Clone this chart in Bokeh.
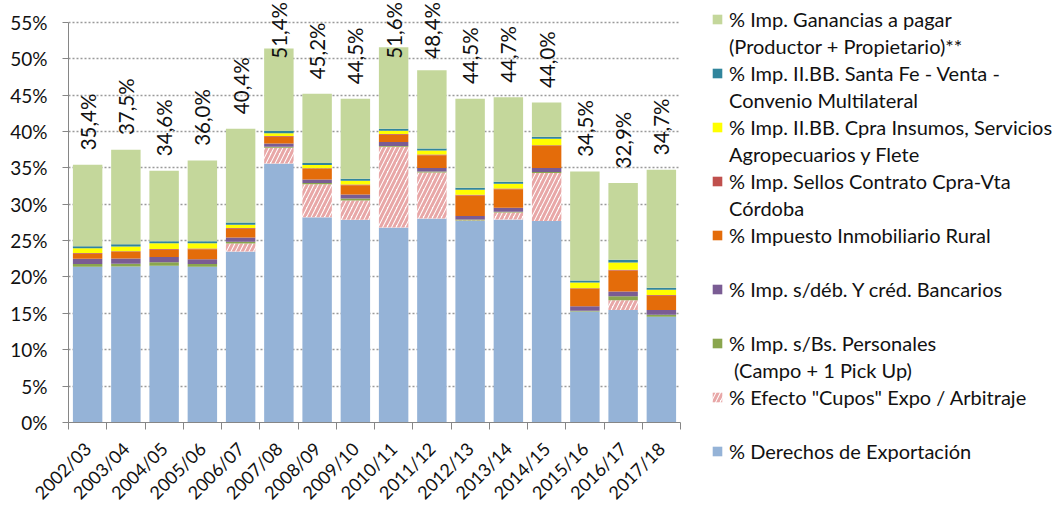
import numpy as np
from bokeh.plotting import figure
from bokeh.models import (ColumnDataSource, Range1d, FixedTicker, PrintfTickFormatter,
                          Legend, LegendItem)
from bokeh.embed import file_html
from bokeh.resources import INLINE
from bokeh.core.properties import value

# ---------------- data (percent of gross income) ----------------
campanas = ["2002/03", "2003/04", "2004/05", "2005/06", "2006/07", "2007/08", "2008/09",
            "2009/10", "2010/11", "2011/12", "2012/13", "2013/14", "2014/15", "2015/16",
            "2016/17", "2017/18"]
derechos = [21.40, 21.45, 21.55, 21.40, 23.50, 35.60, 28.20, 27.85, 26.80, 28.05, 27.70, 27.90, 27.70, 15.25, 15.45, 14.55]
cupos = [0.00, 0.00, 0.00, 0.00, 1.10, 2.15, 4.55, 2.65, 11.10, 6.30, 0.05, 0.95, 6.60, 0.00, 1.35, 0.00]
bs_personales = [0.37, 0.37, 0.46, 0.37, 0.25, 0.15, 0.18, 0.27, 0.10, 0.14, 0.14, 0.10, 0.14, 0.10, 0.55, 0.27]
debitos = [0.73, 0.73, 0.73, 0.68, 0.58, 0.46, 0.46, 0.55, 0.55, 0.50, 0.50, 0.55, 0.55, 0.64, 0.64, 0.64]
inmobiliario = [0.70, 0.90, 1.00, 1.35, 1.20, 0.90, 1.45, 1.30, 1.00, 1.75, 2.80, 2.55, 3.00, 2.35, 2.90, 1.95]
sellos = [0.10, 0.10, 0.10, 0.10, 0.10, 0.10, 0.10, 0.10, 0.10, 0.10, 0.10, 0.10, 0.10, 0.10, 0.10, 0.10]
iibb_cpra = [0.64, 0.65, 0.80, 0.75, 0.45, 0.40, 0.46, 0.50, 0.46, 0.55, 0.70, 0.68, 0.92, 0.80, 1.00, 0.75]
iibb_sf = [0.27, 0.30, 0.27, 0.27, 0.30, 0.30, 0.27, 0.27, 0.27, 0.27, 0.27, 0.27, 0.27, 0.27, 0.37, 0.27]
ganancias = [11.20, 13.00, 9.70, 11.10, 12.90, 11.35, 9.50, 11.00, 11.20, 10.75, 12.25, 11.60, 4.70, 15.00, 10.55, 16.20]
etiquetas = ["35,4%", "37,5%", "34,6%", "36,0%", "40,4%", "51,4%", "45,2%", "44,5%", "51,6%",
             "48,4%", "44,5%", "44,7%", "44,0%", "34,5%", "32,9%", "34,7%"]
y_ticks = [0, 5, 10, 15, 20, 25, 30, 35, 40, 45, 50, 55]

NB = "\u00a0"
# (legend line 1, legend line 2, values, colour) - stacked bottom to top
series = [
    ("% Derechos de Exportación", NB, derechos, "#95B3D7"),
    ('% Efecto "Cupos" Expo / Arbitraje', NB, cupos, None),
    ("% Imp. s/Bs. Personales", NB + "(Campo + 1 Pick Up)", bs_personales, "#8AA64E"),
    ("% Imp. s/déb. Y créd. Bancarios", NB, debitos, "#7A5C94"),
    ("% Impuesto Inmobiliario Rural", NB, inmobiliario, "#E46C0A"),
    ("% Imp. Sellos Contrato Cpra-Vta", "Córdoba", sellos, "#C0504D"),
    ("% Imp. II.BB. Cpra Insumos, Servicios", "Agropecuarios y Flete", iibb_cpra, "#FFFF00"),
    ("% Imp. II.BB. Santa Fe - Venta -", "Convenio Multilateral", iibb_sf, "#31859C"),
    ("% Imp. Ganancias a pagar", "(Productor + Propietario)**", ganancias, "#C4D79B"),
]

FONT = "Lato"
n = len(campanas)
xs = np.arange(n) + 0.5

p = figure(frame_width=612, frame_height=422, min_border_left=68, min_border_top=0,
           min_border_bottom=10, min_border_right=0,
           x_range=Range1d(0, n), y_range=Range1d(0, 58.0),
           output_backend="svg", toolbar_location=None)
p.outline_line_color = None
p.background_fill_color = "white"

bottom = np.zeros(n)
renderers = []
for line1, line2, vals, color in series:
    top = bottom + np.array(vals)
    src = ColumnDataSource(dict(x=xs, bottom=bottom.copy(), top=top))
    if color is None:
        r = p.vbar(x="x", bottom="bottom", top="top", width=0.77, source=src,
                   fill_color="white", line_color=None, hatch_pattern="/",
                   hatch_color="#E8A7A7", hatch_weight=3, hatch_scale=9)
    else:
        r = p.vbar(x="x", bottom="bottom", top="top", width=0.77, source=src,
                   fill_color=color, line_color=None)
    renderers.append((line1, line2, r))
    bottom = top

total = bottom
p.text(x=xs, y=np.minimum(total + 2.0, 50.0), text=etiquetas, angle=np.pi / 2,
       text_align="left", text_baseline="middle", text_font=value(FONT),
       text_font_size="20.5px", text_color="#111111")

# invisible renderer used for the second line of each legend entry
blank = p.vbar(x=[], top=[], width=0.5, fill_alpha=0, line_alpha=0)

# axes
ax = p.xaxis[0]
ax.ticker = FixedTicker(ticks=list(xs), minor_ticks=list(range(n + 1)))
ax.major_label_overrides = {float(x): c for x, c in zip(xs, campanas)}
ax.major_label_orientation = np.pi / 4
ax.major_tick_out = 0
ax.major_tick_in = 0
ax.minor_tick_out = 7
ax.minor_tick_in = 0
ax.minor_tick_line_color = "#868686"
ax.axis_line_color = "#868686"
ax.major_label_text_font = FONT
ax.major_label_text_font_size = "18px"
ax.major_label_text_color = "#111111"
ax.major_label_standoff = 16

ay = p.yaxis[0]
ay.ticker = FixedTicker(ticks=y_ticks)
ay.bounds = (y_ticks[0], y_ticks[-1])
ay.formatter = PrintfTickFormatter(format="%d%%")
ay.major_tick_out = 6
ay.major_tick_in = 0
ay.minor_tick_line_color = None
ay.axis_line_color = "#868686"
ay.major_tick_line_color = "#868686"
ay.major_label_text_font = FONT
ay.major_label_text_font_size = "19px"
ay.major_label_text_color = "#111111"
ay.major_label_standoff = 15

p.xgrid.grid_line_color = None
p.ygrid.grid_line_color = "#9A9A9A"
p.ygrid.grid_line_dash = "2 2"
p.ygrid.grid_line_width = 1.3

items = []
for line1, line2, r in reversed(renderers):
    items.append(LegendItem(label=line1, renderers=[r]))
    items.append(LegendItem(label=line2, renderers=[blank]))
legend = Legend(items=items, location=(31, -69), orientation="vertical", margin=18,
                padding=0, spacing=0, glyph_width=12, glyph_height=12, label_standoff=6,
                label_text_font=FONT, label_text_font_size="20px", label_height=27,
                label_text_color="#111111", border_line_color=None,
                background_fill_alpha=0)
p.add_layout(legend, "right")

open("out.html", "w").write(file_html(p, INLINE))
